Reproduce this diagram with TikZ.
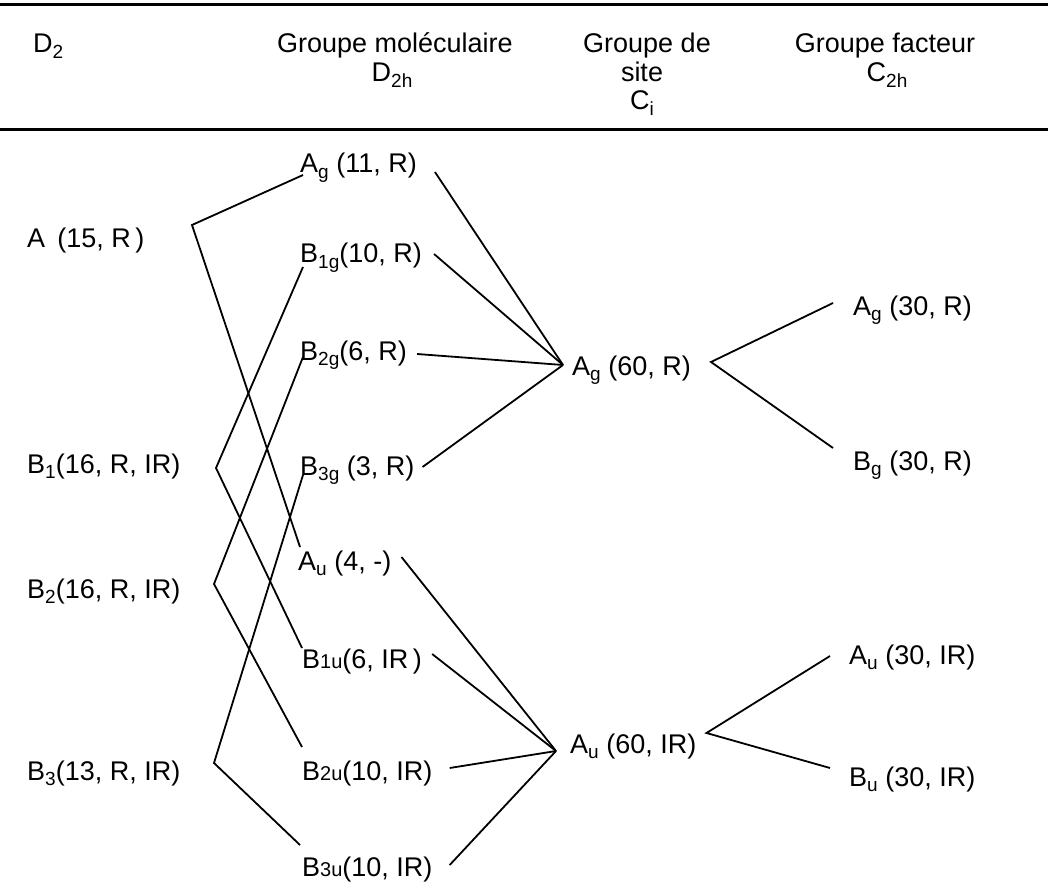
\documentclass[tikz,border=0pt]{standalone}
\usepackage{fontspec}
\setmainfont{Liberation Sans}
\usetikzlibrary{calc}
\newcommand\lo[1]{\raisebox{-0.22em}{\fontsize{19}{19}\selectfont #1}}
\newcommand\sm[1]{{\fontsize{20}{20}\selectfont #1}}
\begin{document}
\begin{tikzpicture}[x=1pt,y=-1pt,
  lbl/.style={inner sep=0pt,anchor=base west,font=\fontsize{27}{30}\selectfont},
  hdr/.style={inner sep=0pt,anchor=base,font=\fontsize{27}{30}\selectfont},
  ln/.style={line width=1.8pt},
  rulel/.style={line width=3pt}]
\useasboundingbox (0,0) rectangle (1048,882);
\fill[white] (0,0) rectangle (1048,882);
% rules
\coordinate (t1) at (0,5);   \coordinate (t2) at (1048,5);
\coordinate (b1) at (0,130); \coordinate (b2) at (1048,130);
\draw[rulel] (t1) -- (t2);
\draw[rulel] (b1) -- (b2);
% header
\node[lbl] (hD2) at (33,53) {D\lo{2}};
\node[hdr] (hmol) at (395,53) {Groupe moléculaire};
\node[hdr] (hmol2) at (392,82) {D\lo{2h}};
\node[hdr] (hsite) at (647,53) {Groupe de};
\node[hdr] (hsite2) at (642,82) {site};
\node[hdr] (hsite3) at (642,110) {C\lo{i}};
\node[hdr] (hfac) at (885,53) {Groupe facteur};
\node[hdr] (hfac2) at (887,82) {C\lo{2h}};
% D2 column
\node[lbl] (nA)  at (27,248) {A\hspace{0.45em}(15, R\,)};
\node[lbl] (nB1) at (27,473) {B\lo{1}(16, R, IR)};
\node[lbl] (nB2) at (27,598) {B\lo{2}(16, R, IR)};
\node[lbl] (nB3) at (27,780) {B\lo{3}(13, R, IR)};
% D2h column
\node[lbl] (mAg)  at (300,173) {A\lo{g} (11, R)};
\node[lbl] (mB1g) at (300,263) {B\lo{1g}(10, R)};
\node[lbl] (mB2g) at (300,360) {B\lo{2g}(6, R)};
\node[lbl] (mB3g) at (300,475) {B\lo{3g} (3, R)};
\node[lbl] (mAu)  at (298,570) {A\lo{u} (4, -)};
\node[lbl] (mB1u) at (302,668) {B\sm{1u}(6, IR\,)};
\node[lbl] (mB2u) at (302,780) {B\sm{2u}(10, IR)};
\node[lbl] (mB3u) at (302,876) {B\sm{3u}(10, IR)};
% site column
\node[lbl] (sAg) at (572,375) {A\lo{g} (60, R)};
\node[lbl] (sAu) at (570,753) {A\lo{u} (60, IR)};
% factor column
\node[lbl] (fAg) at (853,315) {A\lo{g} (30, R)};
\node[lbl] (fBg) at (853,470) {B\lo{g} (30, R)};
\node[lbl] (fAu) at (849,664) {A\lo{u} (30, IR)};
\node[lbl] (fBu) at (849,786) {B\lo{u} (30, IR)};
% junctions
\coordinate (cA)  at (192,225);
\coordinate (cB1) at (216,468);
\coordinate (cB2) at (214,584);
\coordinate (cB3) at (214,763);
\coordinate (gA) at ($(sAg.base west)+(-9,-10)$);
\coordinate (gU) at ($(sAu.base west)+(-14,-2)$);
\coordinate (rA) at ($(sAg.base east)+(20,-13)$);
\coordinate (rU) at ($(sAu.base east)+(10,-20)$);
% D2 -> D2h
\draw[ln] ($(mAg.base west)+(3,2)$) -- (cA) -- ($(mAu.base west)+(2,-23)$);
\draw[ln] ($(mB1g.base west)+(3,4)$) -- (cB1) -- ($(mB1u.base west)+(0,-20)$);
\draw[ln] ($(mB2g.base west)+(3,-3)$) -- (cB2) -- ($(mB2u.base west)+(0,-33)$);
\draw[ln] ($(mB3g.base west)+(3,0)$) -- (cB3) -- ($(mB3u.base west)+(-2,-31)$);
% D2h -> Ci
\draw[ln] ($(mAg.base east)+(18,-1)$) -- (gA);
\draw[ln] ($(mB1g.base east)+(12,-9)$) -- (gA);
\draw[ln] ($(mB2g.base east)+(10,-6)$) -- (gA);
\draw[ln] ($(mB3g.base east)+(8,-8)$) -- (gA);
\draw[ln] ($(mAu.base east)+(10,-13)$) -- (gU);
\draw[ln] ($(mB1u.base east)+(10,-14)$) -- (gU);
\draw[ln] ($(mB2u.base east)+(17,-12)$) -- (gU);
\draw[ln] ($(mB3u.base east)+(17,-11)$) -- (gU);
% Ci -> C2h
\draw[ln] ($(fAg.base west)+(-20,-12)$) -- (rA) -- ($(fBg.base west)+(-20,-22)$);
\draw[ln] ($(fAu.base west)+(-19,-8)$) -- (rU) -- ($(fBu.base west)+(-19,-18)$);
\end{tikzpicture}
\end{document}
